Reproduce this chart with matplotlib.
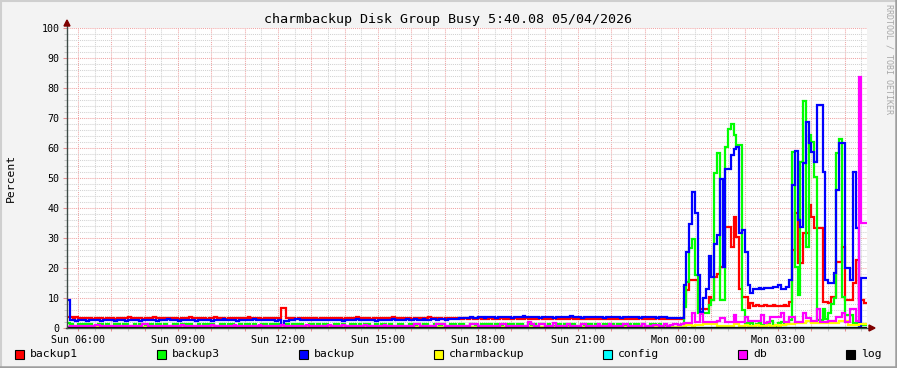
import datetime as dt
import matplotlib
matplotlib.use("Agg")
import matplotlib.pyplot as plt
import matplotlib.dates as mdates
from matplotlib.ticker import MultipleLocator, FuncFormatter
from matplotlib.patches import Rectangle, Polygon
from matplotlib.lines import Line2D

plt.rcParams['font.family'] = ['DejaVu Sans Mono', 'DejaVu Sans']

# ---------------- data ----------------
TITLE = "charmbackup Disk Group Busy 5:40.08 05/04/2026"
YLABEL = "Percent"
WATERMARK = "RRDTOOL / TOBI OETIKER"
START = dt.datetime(2026, 5, 3, 5, 40)   # Sunday 05:40
STEP_MIN = 5

series_names = ["backup1", "backup3", "backup", "charmbackup", "config", "db", "log"]
series_colors = ["#FF0000", "#00FF00", "#0000FF", "#FFFF00", "#00FFFF", "#FF00FF", "#000000"]

# Sun 05:40 -> Mon 00:10 (quiet part)
backup1_day = [
    3.6, 3.6, 3.3, 3.6, 3.3, 3.3, 3.0, 3.3, 3.3, 3.0, 3.3, 3.3,
    3.3, 3.0, 3.3, 3.3, 3.3, 3.0, 3.3, 3.3, 3.3, 3.3, 3.6, 3.3,
    3.3, 3.3, 3.3, 3.0, 3.3, 3.3, 3.3, 3.6, 3.3, 3.3, 3.3, 3.3,
    3.3, 3.3, 3.3, 3.3, 3.0, 3.3, 3.3, 3.3, 3.6, 3.3, 3.3, 3.3,
    3.3, 3.3, 3.0, 3.3, 3.3, 3.6, 3.3, 3.3, 3.3, 3.0, 3.3, 3.3,
    3.3, 3.3, 3.3, 3.3, 3.3, 3.6, 3.3, 3.3, 3.3, 3.3, 3.0, 3.3,
    3.3, 3.3, 3.3, 3.3, 3.3, 6.6, 6.6, 3.3, 3.3, 3.3, 3.0, 3.3,
    3.3, 3.3, 3.3, 3.3, 3.3, 3.3, 3.0, 3.3, 3.3, 3.3, 3.3, 3.3,
    3.3, 3.3, 3.3, 3.0, 3.3, 3.3, 3.3, 3.3, 3.6, 3.3, 3.3, 3.3,
    3.3, 3.0, 3.3, 3.3, 3.3, 3.3, 3.3, 3.3, 3.3, 3.6, 3.3, 3.3,
    3.3, 3.3, 3.3, 3.3, 3.0, 3.3, 3.3, 3.3, 3.3, 3.3, 3.6, 3.3,
    3.3, 3.3, 3.3, 3.0, 3.3, 3.3, 3.3, 3.3, 3.3, 3.3, 3.0, 3.3,
    3.0, 3.3, 3.0, 3.0, 3.3, 3.0, 3.0, 3.0, 3.3, 3.0, 3.0, 3.0,
    3.3, 3.0, 3.0, 3.0, 3.0, 3.3, 3.0, 3.0, 3.0, 3.3, 3.0, 3.0,
    3.0, 3.0, 3.3, 3.0, 3.0, 3.0, 3.0, 3.3, 3.0, 3.0, 3.0, 3.0,
    3.0, 3.3, 3.0, 3.0, 3.0, 3.0, 3.3, 3.0, 3.0, 3.0, 3.0, 3.3,
    3.0, 3.0, 3.0, 3.3, 3.0, 3.0, 3.0, 3.0, 3.3, 3.0, 3.0, 3.0,
    3.0, 3.0, 3.3, 3.0, 3.0, 3.0, 3.0, 3.0, 3.3, 3.0, 3.0, 3.0,
    3.0, 3.0, 2.9, 2.9, 2.9, 2.9,
]
# Mon 00:10 -> Mon 05:40 (busy part)
backup1_night = [
    8.8, 12.7, 16.0, 16.0, 16.0, 6.3, 6.3, 6.5, 6.5, 10.4,
    9.5, 17.1, 18.0, 20.4, 20.4, 33.8, 33.8, 27.1, 36.9, 30.4,
    13.0, 10.4, 10.4, 6.6, 8.2, 7.5, 7.8, 7.2, 7.5, 7.8,
    7.5, 7.2, 7.8, 7.5, 7.2, 7.5, 7.8, 7.5, 8.8, 26.0,
    38.3, 21.6, 21.6, 31.6, 31.6, 41.0, 37.1, 33.2, 33.2, 33.2,
    8.8, 8.8, 8.2, 10.4, 10.4, 22.1, 22.1, 27.1, 9.3, 9.3,
    9.3, 14.9, 22.7, 9.5, 9.5, 8.2,
]

backup3_day = [
    1.6, 1.3, 0.7, 0.7, 1.3, 1.3, 0.7, 1.3, 1.3, 0.7, 0.7, 1.3,
    1.3, 0.7, 1.3, 0.7, 0.7, 1.3, 1.3, 0.7, 1.3, 1.3, 0.7, 0.7,
    1.3, 0.7, 1.3, 1.3, 0.7, 0.7, 1.3, 0.7, 1.3, 1.3, 0.7, 1.3,
    0.7, 0.7, 1.3, 1.3, 0.7, 1.3, 0.7, 1.3, 1.3, 0.7, 0.7, 1.3,
    0.7, 1.3, 1.3, 0.7, 1.3, 0.7, 0.7, 1.3, 1.3, 0.7, 1.3, 1.3,
    0.7, 0.7, 1.3, 0.7, 1.3, 1.3, 0.7, 1.3, 0.7, 0.7, 1.3, 1.3,
    0.7, 1.3, 0.7, 1.3, 1.3, 0.7, 0.7, 1.3, 0.7, 1.3, 1.3, 0.7,
    1.3, 0.7, 0.7, 1.3, 1.3, 0.7, 1.3, 0.7, 1.3, 1.3, 0.7, 0.7,
    1.3, 1.3, 0.7, 1.3, 0.7, 0.7, 1.3, 1.3, 0.7, 1.3, 0.7, 1.3,
    1.3, 0.7, 0.7, 1.3, 0.7, 1.3, 1.3, 0.7, 1.3, 0.7, 0.7, 1.3,
    1.3, 0.7, 0.7, 1.3, 1.3, 0.7, 1.3, 0.7, 1.3, 1.3, 0.7, 0.7,
    1.3, 1.3, 0.7, 1.3, 0.7, 0.7, 1.3, 1.3, 0.7, 1.3, 1.3, 0.7,
    0.7, 1.3, 1.3, 0.7, 0.7, 1.3, 0.7, 1.3, 1.3, 0.7, 1.3, 0.7,
    0.7, 1.3, 1.3, 0.7, 1.3, 0.7, 1.3, 1.3, 0.7, 0.7, 1.3, 0.7,
    1.3, 0.7, 1.3, 1.3, 0.7, 1.3, 0.7, 0.7, 1.3, 1.3, 0.7, 1.3,
    0.7, 1.3, 1.3, 0.7, 0.7, 1.3, 0.7, 1.3, 1.3, 0.7, 1.3, 0.7,
    0.7, 1.3, 1.3, 0.7, 1.3, 0.7, 1.3, 1.3, 0.7, 0.7, 1.3, 0.7,
    1.3, 1.3, 0.7, 1.3, 0.7, 0.7, 1.3, 1.3, 0.7, 1.3, 0.7, 0.7,
    0.7, 0.5, 0.5, 0.5, 0.5, 0.5,
]
backup3_night = [
    7.1, 15.4, 26.6, 29.7, 17.7, 5.0, 5.0, 5.0, 5.0, 7.7,
    9.3, 51.8, 58.4, 9.3, 9.3, 60.4, 66.3, 68.0, 64.3, 61.0,
    61.0, 6.0, 1.6, 0.7, 1.6, 0.7, 1.3, 2.0, 1.0, 0.7,
    1.3, 2.3, 1.0, 0.7, 1.6, 2.0, 1.0, 1.3, 2.6, 58.8,
    20.4, 11.0, 55.4, 75.8, 27.1, 64.3, 62.1, 50.4, 2.7, 2.7,
    6.5, 3.0, 5.0, 8.0, 10.0, 58.2, 63.0, 10.4, 4.3, 4.3,
    4.3, 1.6, 1.6, 1.0, 1.0, 1.0,
]

backup_day = [
    9.3, 2.7, 2.7, 2.4, 2.7, 2.7, 2.7, 2.4, 2.7, 2.7, 2.7, 2.7,
    2.4, 2.7, 2.7, 2.7, 2.7, 2.4, 2.7, 2.7, 2.7, 2.4, 2.7, 2.7,
    2.7, 2.7, 2.4, 2.7, 2.7, 2.7, 2.7, 2.7, 2.4, 2.7, 2.7, 2.7,
    3.0, 2.7, 2.7, 2.7, 2.4, 2.7, 2.7, 2.7, 2.7, 2.7, 2.4, 2.7,
    2.7, 2.7, 2.7, 2.7, 2.4, 2.7, 2.7, 2.7, 3.0, 2.7, 2.7, 2.7,
    2.7, 2.4, 2.7, 2.7, 2.7, 2.7, 2.7, 3.0, 2.7, 2.7, 2.7, 2.7,
    2.7, 2.7, 2.7, 2.4, 2.7, 0.7, 2.4, 2.4, 2.7, 2.7, 3.0, 3.0,
    2.7, 2.7, 2.7, 2.7, 2.7, 2.7, 2.7, 2.7, 2.7, 2.7, 2.7, 2.7,
    2.7, 2.7, 2.7, 2.4, 2.7, 2.7, 2.7, 2.7, 3.0, 2.7, 2.7, 2.7,
    2.7, 2.7, 2.7, 2.4, 2.7, 2.7, 2.7, 2.7, 2.7, 3.0, 2.7, 2.7,
    2.7, 2.7, 3.0, 2.7, 2.7, 3.0, 2.7, 2.7, 3.0, 2.7, 2.7, 3.0,
    3.0, 2.7, 3.0, 3.0, 2.7, 3.0, 3.0, 3.0, 3.0, 3.3, 3.3, 3.3,
    3.3, 3.6, 3.3, 3.3, 3.6, 3.6, 3.3, 3.6, 3.6, 3.6, 3.3, 3.6,
    3.6, 3.6, 3.6, 3.6, 3.3, 3.6, 3.6, 3.6, 3.9, 3.6, 3.6, 3.6,
    3.6, 3.6, 3.3, 3.6, 3.6, 3.6, 3.6, 3.3, 3.6, 3.6, 3.6, 3.6,
    3.6, 3.9, 3.6, 3.6, 3.6, 3.3, 3.6, 3.6, 3.6, 3.6, 3.6, 3.6,
    3.6, 3.3, 3.6, 3.6, 3.6, 3.6, 3.6, 3.3, 3.6, 3.6, 3.6, 3.6,
    3.6, 3.6, 3.3, 3.6, 3.6, 3.6, 3.6, 3.6, 3.3, 3.6, 3.6, 3.6,
    3.4, 3.4, 3.4, 3.4, 3.4, 3.4,
]
backup_night = [
    14.3, 25.4, 34.7, 45.4, 38.3, 17.7, 5.4, 10.0, 13.0, 24.0,
    17.0, 28.0, 31.0, 49.6, 20.4, 53.0, 53.0, 57.7, 59.6, 60.4,
    31.6, 32.7, 25.4, 14.3, 11.8, 12.9, 12.9, 13.2, 12.9, 13.2,
    13.2, 13.2, 13.8, 13.8, 14.3, 13.0, 13.0, 13.8, 16.0, 47.7,
    59.1, 36.0, 33.8, 54.9, 68.8, 61.6, 58.8, 55.4, 74.3, 74.3,
    52.1, 16.0, 15.1, 15.1, 18.4, 46.0, 61.6, 61.6, 19.9, 19.9,
    16.0, 52.1, 33.2, 0.4, 16.6, 16.6,
]

charmbackup_day = [
    0.3, 0.3, 0.3, 0.2, 0.3, 0.3, 0.3, 0.3, 0.3, 0.2, 0.3, 0.3,
    0.3, 0.3, 0.3, 0.3, 0.3, 0.3, 0.2, 0.3, 0.3, 0.3, 0.3, 0.3,
    0.3, 0.3, 0.3, 0.2, 0.3, 0.3, 0.3, 0.3, 0.3, 0.2, 0.3, 0.3,
    0.3, 0.3, 0.3, 0.3, 0.3, 0.3, 0.2, 0.3, 0.3, 0.3, 0.3, 0.3,
    0.3, 0.3, 0.3, 0.2, 0.3, 0.3, 0.3, 0.3, 0.3, 0.2, 0.3, 0.3,
    0.3, 0.3, 0.3, 0.3, 0.3, 0.3, 0.2, 0.3, 0.3, 0.3, 0.3, 0.3,
    0.3, 0.3, 0.3, 0.2, 0.3, 0.3, 0.3, 0.3, 0.3, 0.2, 0.3, 0.3,
    0.3, 0.3, 0.3, 0.3, 0.3, 0.3, 0.2, 0.3, 0.3, 0.3, 0.3, 0.3,
    0.3, 0.3, 0.3, 0.2, 0.3, 0.3, 0.3, 0.3, 0.3, 0.2, 0.3, 0.3,
    0.3, 0.3, 0.3, 0.3, 0.3, 0.3, 0.2, 0.3, 0.3, 0.3, 0.3, 0.3,
    0.3, 0.3, 0.3, 0.2, 0.3, 0.3, 0.3, 0.3, 0.3, 0.2, 0.3, 0.3,
    0.3, 0.3, 0.3, 0.3, 0.3, 0.3, 0.2, 0.3, 0.3, 0.3, 0.3, 0.3,
    0.3, 0.3, 0.3, 0.2, 0.3, 0.3, 0.3, 0.3, 0.3, 0.2, 0.3, 0.3,
    0.3, 0.3, 0.3, 0.3, 0.3, 0.3, 0.2, 0.3, 0.3, 0.3, 0.3, 0.3,
    0.3, 0.3, 0.3, 0.2, 0.3, 0.3, 0.3, 0.3, 0.3, 0.2, 0.3, 0.3,
    0.3, 0.3, 0.3, 0.3, 0.3, 0.3, 0.2, 0.3, 0.3, 0.3, 0.3, 0.3,
    0.3, 0.3, 0.3, 0.2, 0.3, 0.3, 0.3, 0.3, 0.3, 0.2, 0.3, 0.3,
    0.3, 0.3, 0.3, 0.3, 0.3, 0.3, 0.2, 0.3, 0.3, 0.3, 0.3, 0.3,
    0.3, 0.3, 0.3, 0.3, 0.3, 0.5,
]
charmbackup_night = [
    0.7, 1.0, 1.0, 0.7, 1.0, 1.0, 1.0, 1.3, 1.3, 1.3,
    1.3, 1.3, 0.7, 0.7, 0.7, 0.7, 0.7, 0.7, 1.3, 1.3,
    0.7, 0.7, 1.0, 0.7, 0.7, 0.7, 1.0, 0.7, 0.7, 0.7,
    1.0, 0.7, 0.7, 1.0, 0.7, 1.0, 1.0, 1.3, 1.3, 1.3,
    1.7, 1.7, 1.7, 1.7, 2.4, 2.4, 1.7, 1.7, 1.7, 1.7,
    1.7, 1.7, 1.7, 1.7, 1.7, 1.7, 2.4, 2.4, 2.4, 1.0,
    1.0, 1.0, 1.0, 1.3, 1.3, 1.3,
]

config_all = [
    0,0,0,0,0,0,0,0,0,0,0,0,0,0,0,0,0,0,0,0,0,0,0,0,
    0,0,0,0,0,0,0,0,0,0,0,0,0,0,0,0,0,0,0,0,0,0,0,0,
    0,0,0,0,0,0,0,0,0,0,0,0,0,0,0,0,0,0,0,0,0,0,0,0,
    0,0,0,0,0,0,0,0,0,0,0,0,0,0,0,0,0,0,0,0,0,0,0,0,
    0,0,0,0,0,0,0,0,0,0,0,0,0,0,0,0,0,0,0,0,0,0,0,0,
    0,0,0,0,0,0,0,0,0,0,0,0,0,0,0,0,0,0,0,0,0,0,0,0,
    0,0,0,0,0,0,0,0,0,0,0,0,0,0,0,0,0,0,0,0,0,0,0,0,
    0,0,0,0,0,0,0,0,0,0,0,0,0,0,0,0,0,0,0,0,0,0,0,0,
    0,0,0,0,0,0,0,0,0,0,0,0,0,0,0,0,0,0,0,0,0,0,0,0,
    0,0,0,0,0,0,0,0,0,0,0,0,0,0,0,0,0,0,0,0,0,0,0,0,
    0,0,0,0,0,0,0,0,0,0,0,0,0,0,0,0,0,0,0,0,0,0,0,0,
    0,0,0,0,0,0,0,0,0,0,0,0,0,0,0,0,0,0,0,0,0,0,0,0,
]

db_day = [
    0.5, 0.8, 0.8, 0.8, 0.8, 0.8, 0.8, 0.8, 0.8, 0.8, 1.0, 1.0,
    0.8, 0.8, 0.8, 0.8, 0.8, 0.8, 0.8, 0.8, 0.8, 0.8, 0.8, 0.8,
    0.8, 0.8, 0.8, 1.5, 1.5, 0.8, 0.8, 0.8, 0.8, 0.8, 0.8, 0.8,
    0.8, 0.8, 0.8, 0.8, 0.8, 1.0, 0.8, 0.8, 0.8, 0.8, 0.8, 0.8,
    0.8, 0.8, 0.8, 0.8, 1.0, 0.8, 0.8, 0.8, 0.8, 0.8, 0.8, 0.8,
    1.0, 0.8, 0.8, 0.8, 0.8, 0.8, 0.8, 0.8, 0.8, 1.0, 0.8, 0.8,
    0.8, 0.8, 0.8, 0.8, 0.8, 1.0, 0.8, 0.8, 0.8, 0.8, 0.8, 0.8,
    0.8, 0.8, 1.0, 0.8, 0.8, 0.8, 0.8, 0.8, 0.8, 0.8, 1.0, 0.8,
    0.8, 0.8, 0.8, 1.0, 0.8, 0.8, 0.8, 0.8, 0.8, 0.8, 0.8, 1.0,
    0.8, 0.8, 0.8, 0.8, 0.8, 0.8, 1.0, 0.8, 0.8, 0.8, 0.8, 0.8,
    0.8, 0.8, 0.8, 0.8, 0.8, 1.3, 1.3, 0.8, 0.8, 0.8, 0.8, 0.8,
    0.8, 1.3, 1.3, 1.3, 0.8, 0.8, 0.8, 0.8, 0.8, 0.8, 0.8, 0.8,
    0.8, 1.3, 1.3, 1.3, 0.8, 0.8, 0.8, 0.8, 0.8, 0.8, 0.8, 0.8,
    1.3, 1.3, 0.8, 0.8, 0.8, 0.8, 0.8, 0.8, 0.8, 0.8, 2.1, 1.3,
    0.8, 0.8, 1.3, 1.3, 0.8, 0.8, 0.8, 1.6, 0.8, 0.8, 0.8, 0.8,
    1.3, 0.8, 0.8, 0.8, 0.8, 1.3, 1.3, 0.8, 0.8, 0.8, 0.8, 1.3,
    0.8, 0.8, 0.8, 1.3, 0.8, 0.8, 0.8, 0.8, 1.3, 1.3, 0.8, 0.8,
    0.8, 0.8, 0.8, 1.3, 0.8, 0.8, 0.8, 1.0, 1.0, 0.8, 0.8, 1.3,
    0.8, 1.0, 1.3, 1.3, 1.0, 1.3,
]
db_night = [
    1.6, 1.6, 1.6, 4.9, 2.1, 2.1, 4.6, 2.1, 2.1, 2.1,
    2.1, 2.1, 2.3, 3.2, 3.2, 2.1, 2.1, 2.1, 4.3, 2.1,
    2.1, 2.1, 3.8, 2.3, 2.3, 2.3, 2.3, 2.3, 4.3, 1.8,
    2.1, 3.8, 3.8, 3.8, 3.8, 4.9, 2.1, 2.1, 3.8, 3.8,
    2.1, 2.1, 2.1, 5.1, 3.3, 3.3, 2.5, 2.5, 6.2, 2.1,
    2.1, 2.1, 2.5, 2.5, 2.5, 3.8, 3.8, 4.9, 2.1, 2.1,
    6.2, 6.2, 2.5, 83.6, 34.9, 34.9,
]

log_all = [
    0,0,0,0,0,0,0,0,0,0,0,0,0,0,0,0,0,0,0,0,0,0,0,0,
    0,0,0,0,0,0,0,0,0,0,0,0,0,0,0,0,0,0,0,0,0,0,0,0,
    0,0,0,0,0,0,0,0,0,0,0,0,0,0,0,0,0,0,0,0,0,0,0,0,
    0,0,0,0,0,0,0,0,0,0,0,0,0,0,0,0,0,0,0,0,0,0,0,0,
    0,0,0,0,0,0,0,0,0,0,0,0,0,0,0,0,0,0,0,0,0,0,0,0,
    0,0,0,0,0,0,0,0,0,0,0,0,0,0,0,0,0,0,0,0,0,0,0,0,
    0,0,0,0,0,0,0,0,0,0,0,0,0,0,0,0,0,0,0,0,0,0,0,0,
    0,0,0,0,0,0,0,0,0,0,0,0,0,0,0,0,0,0,0,0,0,0,0,0,
    0,0,0,0,0,0,0,0,0,0,0,0,0,0,0,0,0,0,0,0,0,0,0,0,
    0,0,0,0,0,0,0,0,0,0,0,0,0,0,0,0,0,0,0,0,0,0,0,0,
    0,0,0,0,0,0,0,0,0,0,0,0,0,0,0,0,0,0,0,0,0,0,0,0,
    0,0,0,0,0,0,0,0,0,0,0,0,0,0,0,0,0,0,0,0,0,0,0,0,
]

backup1 = backup1_day + backup1_night
backup3 = backup3_day + backup3_night
backup = backup_day + backup_night
charmbackup = charmbackup_day + charmbackup_night
config = config_all
db = db_day + db_night
log = log_all
series_values = [backup1, backup3, backup, charmbackup, config, db, log]

# ---------------- layout ----------------
W, H = 897, 368
fig = plt.figure(figsize=(W / 100, H / 100), dpi=100)
fig.patch.set_facecolor('#F3F3F3')


def fx(x):
    return x / W


def fy(y):
    return 1 - y / H


ax = fig.add_axes([fx(67), fy(328), 800 / W, 300 / H])
ax.set_facecolor('white')
for s in ax.spines.values():
    s.set_visible(False)

n = max(len(v) for v in series_values)
times = [START + dt.timedelta(minutes=STEP_MIN * i) for i in range(n + 1)]

for name, color, vals in zip(series_names, series_colors, series_values):
    ax.plot(times[:len(vals) + 1], list(vals) + [vals[-1]], drawstyle='steps-post',
            color=color, lw=1.6, solid_joinstyle='miter', zorder=3)

ax.set_xlim(times[0], times[-1])
ax.set_ylim(0, 100)

ax.yaxis.set_major_locator(MultipleLocator(10))
ax.yaxis.set_minor_locator(MultipleLocator(2))
ax.xaxis.set_major_locator(mdates.HourLocator())
ax.xaxis.set_minor_locator(mdates.MinuteLocator(byminute=[30]))


def xfmt(x, pos):
    d = mdates.num2date(x) + dt.timedelta(seconds=30)
    if d.hour % 3 == 0:
        return d.strftime('%a %H:%M')
    return ''


ax.xaxis.set_major_formatter(FuncFormatter(xfmt))

ax.set_axisbelow(True)
ax.grid(True, which='major', color='#F0A4A4', linestyle=(0, (1, 1)), linewidth=0.75)
ax.grid(True, which='minor', color='#D2D2D2', linestyle=(0, (1, 1)), linewidth=0.75)

ax.tick_params(axis='y', which='major', length=3, width=0.75, color='#E89090',
               labelsize=7.2, pad=2.5, labelcolor='black')
ax.tick_params(axis='y', which='minor', length=2, width=0.75, color='#C8C8C8')
ax.tick_params(axis='x', which='major', length=2, width=0.75, color='#E89090',
               labelsize=7.2, pad=3, labelcolor='black')
ax.tick_params(axis='x', which='minor', length=2, width=0.75, color='#C8C8C8')

# axes with arrows
axis_col = '#3C4A45'
fig.add_artist(Line2D([fx(67), fx(67)], [fy(328), fy(24)], color=axis_col, lw=1.0, zorder=5))
fig.add_artist(Line2D([fx(66), fx(870)], [fy(328), fy(328)], color=axis_col, lw=1.0, zorder=5))
fig.add_artist(Polygon([[fx(67), fy(20)], [fx(64), fy(26)], [fx(70), fy(26)]],
                       closed=True, transform=fig.transFigure, color='#7F0000', zorder=6))
fig.add_artist(Polygon([[fx(875), fy(328)], [fx(869), fy(325)], [fx(869), fy(331)]],
                       closed=True, transform=fig.transFigure, color='#7F0000', zorder=6))

# frame
fig.add_artist(Line2D([0, 1], [fy(0.5), fy(0.5)], color='#CFCFCF', lw=1.5))
fig.add_artist(Line2D([fx(0.5), fx(0.5)], [0, 1], color='#CFCFCF', lw=1.5))
fig.add_artist(Line2D([0, 1], [fy(367), fy(367)], color='#9E9E9E', lw=1.8))
fig.add_artist(Line2D([fx(896), fx(896)], [0, 1], color='#9E9E9E', lw=1.8))

# texts
fig.text(fx(448), fy(19), TITLE, ha='center', va='center', fontsize=9.6, color='black')
fig.text(fx(11), fy(178), YLABEL, rotation=90, ha='center', va='center', fontsize=8.2)
fig.text(fx(889), fy(59), WATERMARK, rotation=270, ha='center', va='center',
         fontsize=6, color='#A8A8A8')

# legend
legend_x = [15, 157, 299, 434, 603, 738, 846]
for lx, name, color in zip(legend_x, series_names, series_colors):
    fig.add_artist(Rectangle((fx(lx), fy(358.5)), 9 / W, 9 / H, transform=fig.transFigure,
                             facecolor=color, edgecolor='black', lw=0.8))
    fig.text(fx(lx + 15), fy(354), name, ha='left', va='center', fontsize=8.2)

fig.savefig('out.png', dpi=100, facecolor=fig.get_facecolor())
